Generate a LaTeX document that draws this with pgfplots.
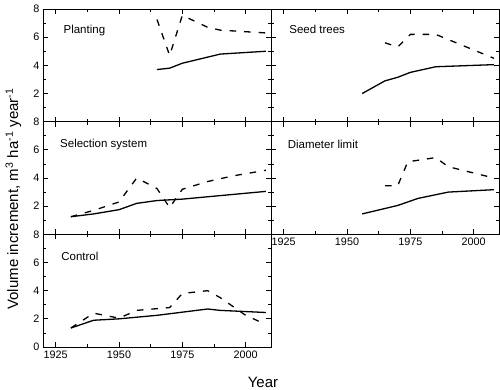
\documentclass[border=0pt]{standalone}
\usepackage{pgfplots}
\pgfplotsset{compat=1.18}
\usepackage{fontspec}
\setmainfont{Liberation Sans}
\pgfplotsset{
  panel/.style={
    scale only axis, width=228pt, height=112.67pt,
    anchor=south west,
    xmin=1920, xmax=2010, ymin=0, ymax=8,
    xtick={1925,1950,1975,2000}, ytick={0,2,4,6,8},
    minor x tick num=1, minor y tick num=1,
    tick align=inside,
    major tick length=5pt, minor tick length=3pt,
    axis line style={line width=0.9pt},
    every tick/.style={black, line width=0.8pt},
    tick label style={font=\fontsize{10.8}{12}\selectfont},
    /pgf/number format/assume math mode=true,
    /pgf/number format/1000 sep={},
  },
}
\tikzset{
  sol/.style={black, line width=1.3pt},
  das/.style={black, line width=1.3pt, dash pattern=on 6.5pt off 8pt},
  lab/.style={anchor=west, font=\fontsize{11.5}{13}\selectfont},
}
\begin{document}
\begin{tikzpicture}
\path[use as bounding box] (0pt,0pt) rectangle (500pt,389pt);
% top-left: Planting
\begin{axis}[panel, at={(43pt,267.33pt)}, xticklabels={}, yticklabels={{},2,4,6,8}]
\addplot[sol, no marks] coordinates {(1965,3.7)(1970,3.8)(1975,4.15)(1990,4.8)(2008,5.0)};
\addplot[das, no marks] coordinates {(1965,7.25)(1970,4.7)(1975,7.55)(1985,6.7)(1990,6.5)(2008,6.3)};
\node[lab] at (rel axis cs:0.075,0.81) {Planting};
\end{axis}
% top-right: Seed trees
\begin{axis}[panel, at={(271pt,267.33pt)}, xticklabels={}, yticklabels={}]
\addplot[sol, no marks] coordinates {(1956,2.0)(1965,2.9)(1970,3.15)(1975,3.5)(1985,3.9)(2008,4.05)};
\addplot[das, no marks] coordinates {(1965,5.6)(1970,5.3)(1975,6.2)(1985,6.2)(2008,4.5)};
\node[lab] at (rel axis cs:0.065,0.815) {Seed trees};
\end{axis}
% middle-left: Selection system
\begin{axis}[panel, at={(43pt,154.67pt)}, xticklabels={}, yticklabels={{},2,4,6,8}]
\addplot[sol, no marks] coordinates {(1931,1.25)(1940,1.45)(1950,1.75)(1957,2.2)(1965,2.4)(1975,2.5)(2008,3.05)};
\addplot[das, no marks] coordinates {(1931,1.25)(1940,1.7)(1950,2.3)(1957,4.0)(1965,3.25)(1970,1.9)(1975,3.2)(1985,3.75)(1995,4.15)(2008,4.55)};
\node[lab] at (rel axis cs:0.06,0.80) {Selection system};
\end{axis}
% middle-right: Diameter limit
\begin{axis}[panel, at={(271pt,154.67pt)}, yticklabels={}]
\addplot[sol, no marks] coordinates {(1956,1.45)(1970,2.05)(1978,2.55)(1990,3.0)(2008,3.17)};
\addplot[das, no marks] coordinates {(1965,3.45)(1970,3.45)(1974,5.15)(1985,5.45)(1990,4.8)(2008,4.0)};
\node[lab] at (rel axis cs:0.058,0.80) {Diameter limit};
\end{axis}
% bottom-left: Control
\begin{axis}[panel, at={(43pt,42pt)}]
\addplot[sol, no marks] coordinates {(1931,1.35)(1940,1.9)(1950,2.0)(1965,2.25)(1985,2.7)(1990,2.6)(2008,2.45)};
\addplot[das, no marks] coordinates {(1931,1.35)(1940,2.4)(1950,2.05)(1957,2.6)(1970,2.8)(1975,3.8)(1985,4.0)(1990,3.5)(2000,2.25)(2008,1.6)};
\node[lab] at (rel axis cs:0.065,0.805) {Control};
\end{axis}
\node[rotate=90, font=\fontsize{15}{18}\selectfont] at (13.5pt,190pt) {Volume increment, m\textsuperscript{3} ha\textsuperscript{-1} year\textsuperscript{-1}};
\node[font=\fontsize{15}{18}\selectfont] at (263pt,7pt) {Year};
\end{tikzpicture}
\end{document}
